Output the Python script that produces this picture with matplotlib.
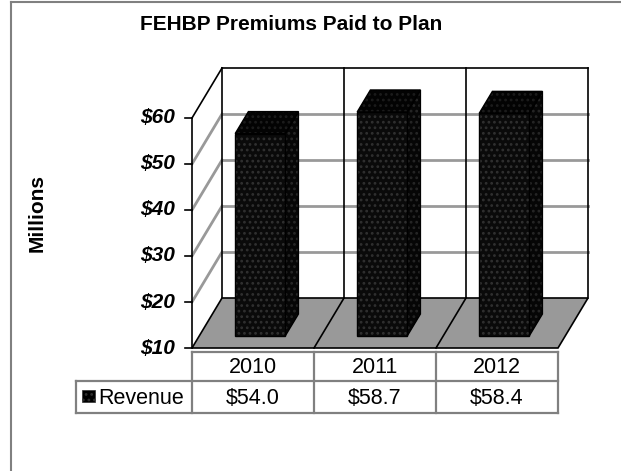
import matplotlib
matplotlib.use("Agg")
import matplotlib.pyplot as plt
from matplotlib.patches import Polygon, Rectangle
from matplotlib.lines import Line2D

plt.rcParams["font.family"] = ["Liberation Sans", "DejaVu Sans"]

# Veriler
years = ["2010", "2011", "2012"]
revenue = [54.0, 58.7, 58.4]
value_labels = ["$54.0", "$58.7", "$58.4"]
yticks = [10, 20, 30, 40, 50, 60]
ytick_labels = ["$10", "$20", "$30", "$40", "$50", "$60"]

ymin, ymax = 10, 60
n = len(years)
DX, DY = 0.246, 10.87        # derinlik kayması (veri birimi)
bw = 0.41                    # çubuk genişliği
d0, d1 = 0.24, 0.68          # çubuğun derinlik aralığı

fig = plt.figure(figsize=(6.21, 4.71), dpi=100)
ax = fig.add_axes([0, 0, 1, 1])
ax.set_xlim(-1.5738, 3.5164)
ax.set_ylim(-16.739, 85.652)
ax.axis("off")

grid_c = "#999999"

# Arka duvar ve sol duvar ızgara çizgileri
for v in yticks[1:-1]:
    ax.plot([DX, n + DX], [v + DY, v + DY], color=grid_c, lw=2.0, zorder=1)
    ax.plot([0, DX], [v, v + DY], color=grid_c, lw=2.0, zorder=1)
ax.plot([DX, n + DX], [ymax + DY, ymax + DY], color="black", lw=1.2, zorder=2)
ax.plot([0, DX], [ymax, ymax + DY], color="black", lw=1.2, zorder=2)
for i in range(n + 1):
    ax.plot([i + DX, i + DX], [ymin + DY, ymax + DY], color="black", lw=1.2, zorder=2)

# Taban
floor = Polygon([[0, ymin], [n, ymin], [n + DX, ymin + DY], [DX, ymin + DY]],
                closed=True, facecolor="#999999", edgecolor="black", lw=1.2, zorder=3)
ax.add_patch(floor)
for i in range(1, n):
    ax.plot([i, i + DX], [ymin, ymin + DY], color="black", lw=1.2, zorder=3)

# 3B çubuklar
plt.rcParams["hatch.linewidth"] = 1.2
for i, val in enumerate(revenue):
    x0 = i + 0.5 - bw / 2 + d0 * DX
    x1 = x0 + bw
    yb = ymin + d0 * DY
    yt = val + d0 * DY
    ddx = (d1 - d0) * DX
    ddy = (d1 - d0) * DY
    front = [[x0, yb], [x1, yb], [x1, yt], [x0, yt]]
    side = [[x1, yb], [x1 + ddx, yb + ddy], [x1 + ddx, yt + ddy], [x1, yt]]
    top = [[x0, yt], [x1, yt], [x1 + ddx, yt + ddy], [x0 + ddx, yt + ddy]]
    for pts, fc, hc in [(side, "#060606", "#262626"), (front, "#0a0a0a", "#303030"),
                        (top, "#030303", "#1c1c1c")]:
        ax.add_patch(Polygon(pts, closed=True, facecolor=fc, edgecolor=hc,
                             hatch="...", lw=0, zorder=4 + i))
        ax.add_patch(Polygon(pts, closed=True, fill=False, edgecolor="black",
                             lw=1.0, zorder=4 + i))

# Ön dikey eksen
ax.plot([0, 0], [ymin, ymax], color="black", lw=1.2, zorder=10)
for v, lab in zip(yticks, ytick_labels):
    ax.plot([-0.057, 0], [v, v], color="black", lw=1.2, zorder=10)
    ax.text(-0.14, v, lab, ha="right", va="center", fontsize=15,
            fontweight="bold", fontstyle="italic")

# Veri tablosu
tab_c = "#808080"
tab_left = -0.951
y_top, y_mid, y_bot = 9.13, 2.83, -4.13
ax.plot([0, n], [y_top, y_top], color=tab_c, lw=1.6)
ax.plot([tab_left, n], [y_mid, y_mid], color=tab_c, lw=1.6)
ax.plot([tab_left, n], [y_bot, y_bot], color=tab_c, lw=1.6)
ax.plot([tab_left, tab_left], [y_mid, y_bot], color=tab_c, lw=1.6)
for i in range(n + 1):
    ax.plot([i, i], [y_top, y_bot], color=tab_c, lw=1.6)
for i in range(n):
    ax.text(i + 0.5, (y_top + y_mid) / 2 - 0.3, years[i], ha="center", va="center", fontsize=15.5)
    ax.text(i + 0.5, (y_mid + y_bot) / 2 - 0.3, value_labels[i], ha="center", va="center", fontsize=15.5)
ax.add_patch(Rectangle((-0.902, -1.74), 0.107, 2.61, facecolor="black",
                       edgecolor="#303030", hatch="...", lw=0.5))
ax.text(-0.765, (y_mid + y_bot) / 2 - 0.3, "Revenue", ha="left", va="center", fontsize=15.5)

# Başlık ve eksen adı
fig.text(0.469, 0.947, "FEHBP Premiums Paid to Plan", ha="center", va="center",
         fontsize=15, fontweight="bold")
fig.text(0.06, 0.548, "Millions", ha="center", va="center", rotation=90,
         fontsize=15, fontweight="bold")

# Grafik çerçevesi
fig.add_artist(Line2D([11 / 621, 11 / 621], [0, 1 - 2 / 471], color="#808080", lw=1.5))
fig.add_artist(Line2D([11 / 621, 1], [1 - 2 / 471, 1 - 2 / 471], color="#808080", lw=1.5))

fig.savefig("out.png", dpi=100)
